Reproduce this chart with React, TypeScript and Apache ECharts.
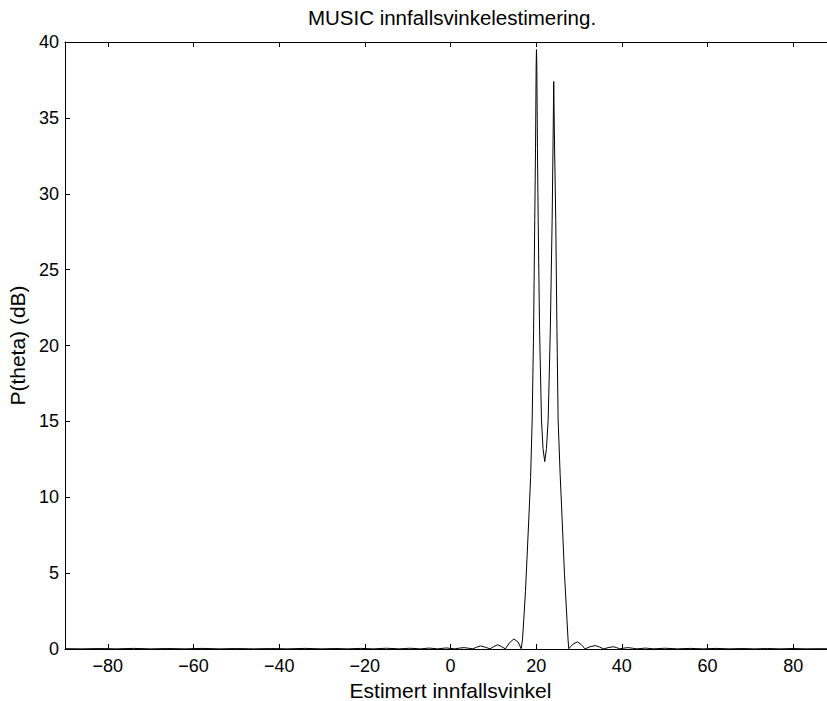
import React, { useEffect, useRef } from "react";
import * as echarts from "echarts";

// Angle (degrees) and MUSIC spectrum (dB)
const angles = [
  -90, -86, -82, -78, -74, -70, -66, -62, -58, -54,
  -50, -46, -42, -38, -34, -30, -27, -24, -21, -18,
  -15, -12, -9.5, -7, -5, -3, -1, 1, 2.1, 3.2,
  4.2, 5.2, 6.1, 7.0, 8.1, 9.2, 10.1, 11.0, 11.9, 12.8,
  13.8, 14.8, 15.8, 16.5, 16.8, 17.1, 17.5, 17.9, 18.27, 18.7,
  19.07, 19.4, 19.67, 19.85, 20.0, 20.07, 20.15, 20.3, 20.47, 20.8,
  21.24, 21.6, 22.0, 22.4, 22.8, 23.3, 23.73, 23.95, 24.1, 24.25,
  24.57, 24.85, 25.13, 25.6, 26.07, 26.6, 27.2, 27.45, 27.6, 28.6,
  29.6, 30.5, 31.4, 32.6, 33.8, 34.8, 35.7, 37.0, 38.0, 38.8,
  39.5, 40.5, 41.5, 42.5, 43.5, 45.5, 47.5, 50, 53, 56,
  59, 62, 65, 68, 71, 74, 77, 80, 83, 86,
  90,
];
const powerDb = [
  0.02, 0.01, 0.03, 0.01, 0.04, 0.01, 0.03, 0.01, 0.04, 0.01,
  0.03, 0.01, 0.03, 0.01, 0.04, 0.01, 0.03, 0.01, 0.04, 0.01,
  0.05, 0.01, 0.05, 0.01, 0.06, 0.01, 0.07, 0.01, 0.06, 0.09,
  0.05, 0.01, 0.12, 0.2, 0.12, 0.01, 0.16, 0.28, 0.16, 0.01,
  0.42, 0.66, 0.45, 0.02, 0.6, 1.9, 3.8, 6.2, 8.5, 11.3,
  15.1, 21, 28.3, 33, 38.5, 39.5, 38.5, 33, 28.3, 21,
  15.1, 13.2, 12.35, 13.2, 15.1, 21, 28.3, 33.5, 37.4, 34,
  28.3, 21, 15.1, 11.5, 8.5, 5.0, 1.9, 0.6, 0.02, 0.32,
  0.47, 0.3, 0.01, 0.15, 0.23, 0.13, 0.01, 0.1, 0.15, 0.09,
  0.01, 0.06, 0.09, 0.05, 0.01, 0.06, 0.01, 0.05, 0.01, 0.04,
  0.01, 0.04, 0.01, 0.03, 0.01, 0.03, 0.01, 0.03, 0.01, 0.02,
  0.01,
];
const xTicks = [-80, -60, -40, -20, 0, 20, 40, 60, 80];

const FONT = "Liberation Sans, Arial, Helvetica, sans-serif";

export default function App() {
  const ref = useRef<HTMLDivElement>(null);
  useEffect(() => {
    document.body.style.margin = "0";
    document.body.style.overflow = "hidden";
    if (!ref.current) return;
    const chart = echarts.init(ref.current, undefined, { renderer: "svg" });
    const data = angles.map((a, i) => [a, powerDb[i]]);
    const axisCommon = {
      axisLine: { show: true, onZero: false, lineStyle: { color: "#000", width: 1 } },
      axisTick: { show: true, inside: true, length: 5, lineStyle: { color: "#000", width: 1 } },
      splitLine: { show: false },
    };
    const fmt = (v: number) => (v < 0 ? "\u2212" + Math.abs(v) : String(v));
    chart.setOption({
      animation: false,
      backgroundColor: "#fff",
      textStyle: { fontFamily: FONT, color: "#000" },
      title: {
        text: "MUSIC innfallsvinkelestimering.",
        left: 447,
        textAlign: "center",
        top: 2,
        textStyle: { fontFamily: FONT, fontSize: 20.5, fontWeight: "normal", color: "#000" },
      },
      grid: {
        left: 65,
        top: 42,
        width: 771,
        height: 607,
        containLabel: false,
        outerBoundsMode: "none",
      },
      xAxis: [
        {
          type: "value",
          min: -90,
          max: 90,
          position: "bottom",
          ...axisCommon,
          axisTick: { ...axisCommon.axisTick, customValues: xTicks },
          axisLabel: {
            customValues: xTicks,
            formatter: fmt,
            color: "#000",
            fontFamily: FONT,
            fontSize: 18,
            margin: 8,
          },
          name: "Estimert innfallsvinkel",
          nameLocation: "middle",
          nameGap: 27,
          nameTextStyle: { fontFamily: FONT, fontSize: 21, lineHeight: 21, color: "#000" },
        },
        {
          type: "value",
          min: -90,
          max: 90,
          position: "top",
          ...axisCommon,
          axisTick: { ...axisCommon.axisTick, customValues: xTicks },
          axisLabel: { show: false, customValues: xTicks },
        },
      ],
      yAxis: [
        {
          type: "value",
          min: 0,
          max: 40,
          interval: 5,
          position: "left",
          ...axisCommon,
          axisLabel: { color: "#000", fontFamily: FONT, fontSize: 18, margin: 6 },
          name: "P(theta) (dB)",
          nameLocation: "middle",
          nameGap: 36,
          nameTextStyle: { fontFamily: FONT, fontSize: 21, lineHeight: 21, color: "#000" },
        },
        {
          type: "value",
          min: 0,
          max: 40,
          interval: 5,
          position: "right",
          ...axisCommon,
          axisLabel: { show: false },
        },
      ],
      series: [
        {
          type: "line",
          data,
          xAxisIndex: 0,
          yAxisIndex: 0,
          showSymbol: false,
          symbol: "none",
          smooth: false,
          lineStyle: { color: "#000", width: 1 },
        },
      ],
    });
    return () => chart.dispose();
  }, []);
  return (
    <div style={{ width: 827, height: 701, overflow: "hidden", position: "relative" }}>
      <div ref={ref} style={{ width: 860, height: 701 }} />
    </div>
  );
}
